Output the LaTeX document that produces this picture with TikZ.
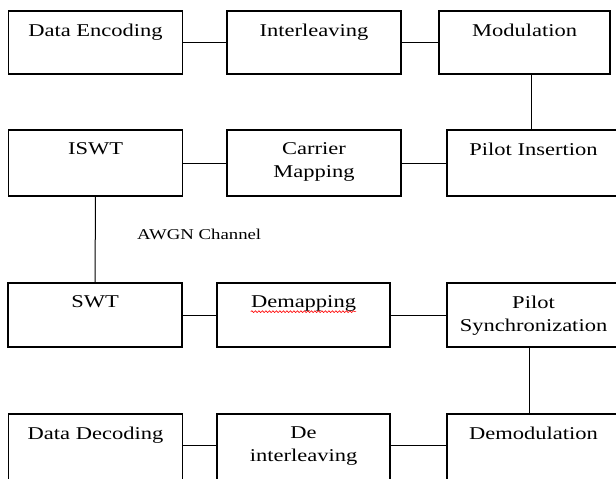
\documentclass[tikz,border=0pt]{standalone}
\usepackage{fontspec}
\setmainfont{Liberation Serif}[FakeStretch=1.25]
\usepackage{tikz}
\usetikzlibrary{positioning, calc, decorations.pathmorphing}

\begin{document}
\begin{tikzpicture}[x=1pt, y=-1pt,
    blk/.style={draw, line width=1.1pt, minimum width=174pt, minimum height=64pt, inner sep=0pt},
    blktext/.style={anchor=north, yshift=-13pt, inner sep=0pt, align=center, font=\fontsize{18pt}{23pt}\selectfont},
    link/.style={line width=1pt},
    wavy/.style={red, line width=0.6pt, decorate, decoration={snake, amplitude=0.9pt, segment length=3.5pt}}]
    \clip (0, 0) rectangle (616, 479);

    % transmitter
    \node[blk, minimum height=63pt, label={[blktext]north:Data Encoding}] (enc) at (95.5, 42.5) {};
    \node[blk, minimum height=63pt, label={[blktext]north:Interleaving}] (intl) at (314, 42.5) {};
    \node[blk, minimum height=63pt, minimum width=171pt, label={[blktext]north:Modulation}] (mod) at (524.5, 42.5) {};

    \node[blk, minimum height=66pt, label={[blktext]north:ISWT}] (iswt) at (95.5, 163) {};
    \node[blk, minimum height=66pt, label={[blktext]north:Carrier\\Mapping}] (cmap) at (314, 163) {};
    \node[blk, minimum height=66pt, minimum width=173pt, label={[blktext]north:Pilot Insertion}] (pins) at (533.5, 163) {};

    \node[anchor=base west, inner sep=0pt, font=\fontsize{15pt}{18pt}\selectfont] (awgn) at (137, 239) {AWGN Channel};

    % receiver
    \node[blk, label={[blktext]north:SWT}] (swt) at (95, 315) {};
    \node[blk, minimum width=173pt, label={[blktext, name=dmaptxt]north:Demapping}] (dmap) at (303.5, 315) {};
    \node[blk, minimum width=173pt, label={[blktext]north:Pilot\\Synchronization}] (psync) at (533.5, 315) {};

    \node[blk, minimum height=68pt, label={[blktext]north:Data Decoding}] (dec) at (95.5, 448) {};
    \node[blk, minimum height=68pt, minimum width=173pt, label={[blktext]north:De\\interleaving}] (dintl) at (303.5, 448) {};
    \node[blk, minimum height=68pt, minimum width=173pt, label={[blktext]north:Demodulation}] (demod) at (533.5, 448) {};

    \draw[wavy] (dmaptxt.south west) -- (dmaptxt.south east);

    \draw[link] (enc.east) -- (intl.west);
    \draw[link] (intl.east) -- (mod.west);
    \draw[link] ([xshift=-2.5pt]pins.north) -- ([xshift=-2.5pt]pins.north |- mod.south);
    \draw[link] (pins.west) -- (cmap.east);
    \draw[link] (cmap.west) -- (iswt.east);
    \draw[link] (iswt.south) -- (swt.north);
    \draw[link] (swt.east) -- (dmap.west);
    \draw[link] (dmap.east) -- (psync.west);
    \draw[link] ([xshift=-4.5pt]psync.south) -- ([xshift=-4.5pt]demod.north);
    \draw[link] ([yshift=3pt]demod.west) -- ([yshift=3pt]dintl.east);
    \draw[link] ([yshift=3pt]dintl.west) -- ([yshift=3pt]dec.east);
  \end{tikzpicture}
\end{document}
